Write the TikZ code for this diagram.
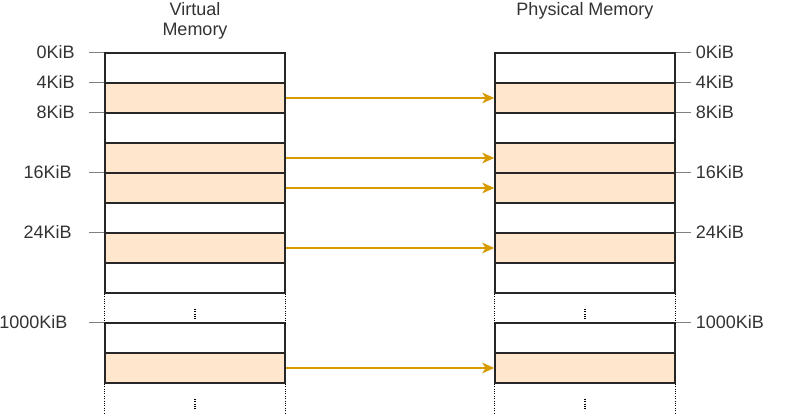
\documentclass[tikz,border=0pt]{standalone}
\usepackage{fontspec}
\setmainfont{Liberation Sans}
\usetikzlibrary{arrows.meta}
\definecolor{pagefill}{HTML}{FFE6CC}
\definecolor{maparrow}{HTML}{D79B00}
\begin{document}
\begin{tikzpicture}[x=0.75pt, y=-0.75pt, every node/.style={font=\fontsize{13.5}{14.5}\selectfont, text=black!80}]
	\tikzset{
		cell/.style={draw=black!85, line width=1.1pt, minimum width=135pt, minimum height=22.5pt, inner sep=0pt},
		page/.style={cell, fill=pagefill},
		tick/.style={draw=black!50, line width=1.1pt},
		map/.style={draw=maparrow, line width=0.9pt, -{Stealth[length=9pt, width=8pt, inset=2.5pt]}},
		gap/.style={draw=black, dash pattern=on 0.8pt off 1pt, line width=0.9pt}
	}
	\useasboundingbox (0,0) rectangle (785,416);
	\node[align=center] (vtitle) at (195,21) {Virtual\\Memory};
	\node (ptitle) at (585,11) {Physical Memory};
	% pages of both memories
	\foreach \i/\s in {0/cell, 1/page, 2/cell, 3/page, 4/page, 5/cell, 6/page, 7/cell, 9/cell, 10/page}
	{
		\node[\s] (v\i) at (195, 68+30*\i) {};
		\node[\s] (p\i) at (585, 68+30*\i) {};
	}
	% skipped ranges
	\foreach \r in {v7, v10, p7, p10}
	{
		\draw[gap] (\r.south west) -- ++(0,30);
		\draw[gap] (\r.south east) -- ++(0,30);
		\draw[gap] (\r.south) ++(0,15) -- ++(0,10);
	}
	% addresses
	\foreach \i/\l/\o in {0/0KiB/7, 1/4KiB/7, 2/8KiB/7, 4/16KiB/9.4, 6/24KiB/9.4, 9/1000KiB/12.5}
	{
		\draw[tick] (v\i.north west) -- ++(-15,0) node[anchor=east, xshift=-\o pt] (vl\i) {\l};
		\draw[tick] (p\i.north east) -- ++(15,0) node[anchor=west] (pl\i) {\l};
	}
	% mapping
	\foreach \i in {1, 3, 4, 6, 10}
		\draw[map] (v\i.east) -- (p\i.west);
\end{tikzpicture}
\end{document}
